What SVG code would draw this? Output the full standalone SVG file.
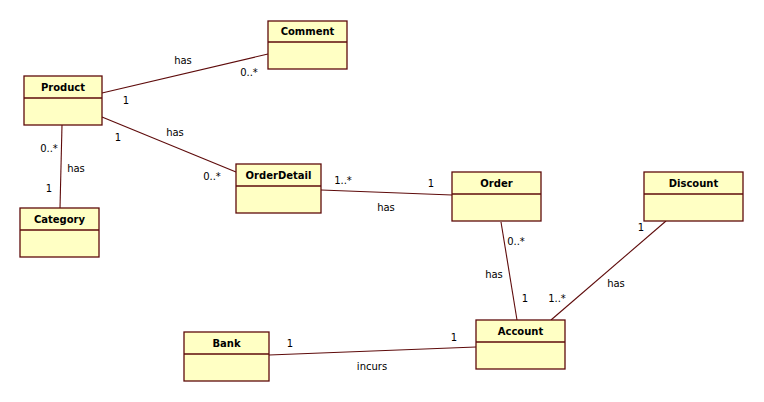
<svg xmlns="http://www.w3.org/2000/svg" width="764" height="402" viewBox="0 0 764 402">
<style>
.box{fill:#FFFFC4;stroke:#5E0B0B;stroke-width:1.3}
.div{stroke:#5E0B0B;stroke-width:1.3}
.t{font-family:"DejaVu Sans",Verdana,sans-serif;font-size:10px;font-weight:bold;fill:#000;text-anchor:middle}
.l{font-family:"DejaVu Sans",Verdana,sans-serif;font-size:10px;fill:#000;text-anchor:middle}
.c{stroke:#5E0B0B;stroke-width:1.1;fill:none}
</style>
<rect width="764" height="402" fill="#fff"/>
<g id="connectors">
<line class="c" x1="102" y1="93" x2="268" y2="54"/>
<line class="c" x1="102" y1="117" x2="236" y2="172"/>
<line class="c" x1="62" y1="125" x2="60" y2="208"/>
<line class="c" x1="321" y1="190" x2="452" y2="195"/>
<line class="c" x1="501" y1="222" x2="517" y2="320"/>
<line class="c" x1="666" y1="221" x2="551" y2="320"/>
<line class="c" x1="269" y1="355" x2="476" y2="347"/>
</g>
<g id="labels">
<text class="l" x="183" y="64">has</text>
<text class="l" x="249" y="76">0..*</text>
<text class="l" x="126" y="104">1</text>
<text class="l" x="175" y="136">has</text>
<text class="l" x="118" y="141">1</text>
<text class="l" x="212" y="180">0..*</text>
<text class="l" x="49" y="152">0..*</text>
<text class="l" x="76" y="172">has</text>
<text class="l" x="49" y="192">1</text>
<text class="l" x="343" y="184">1..*</text>
<text class="l" x="386" y="211">has</text>
<text class="l" x="431" y="187">1</text>
<text class="l" x="516" y="245">0..*</text>
<text class="l" x="494" y="278">has</text>
<text class="l" x="525" y="302">1</text>
<text class="l" x="557" y="302">1..*</text>
<text class="l" x="641" y="231">1</text>
<text class="l" x="616" y="287">has</text>
<text class="l" x="454" y="341">1</text>
<text class="l" x="290" y="347">1</text>
<text class="l" x="372" y="370">incurs</text>
</g>
<g id="Comment">
<rect class="box" x="268" y="21" width="79" height="48"/>
<line class="div" x1="268" y1="42" x2="347" y2="42"/>
<text class="t" x="307.5" y="35">Comment</text>
</g>
<g id="Product">
<rect class="box" x="24" y="76" width="78" height="49"/>
<line class="div" x1="24" y1="98" x2="102" y2="98"/>
<text class="t" x="63" y="91">Product</text>
</g>
<g id="Category">
<rect class="box" x="20" y="208" width="79" height="49"/>
<line class="div" x1="20" y1="230" x2="99" y2="230"/>
<text class="t" x="59.5" y="223">Category</text>
</g>
<g id="OrderDetail">
<rect class="box" x="236" y="164" width="85" height="49"/>
<line class="div" x1="236" y1="186" x2="321" y2="186"/>
<text class="t" x="278.5" y="179">OrderDetail</text>
</g>
<g id="Order">
<rect class="box" x="452" y="172" width="89" height="49"/>
<line class="div" x1="452" y1="194" x2="541" y2="194"/>
<text class="t" x="496.5" y="187">Order</text>
</g>
<g id="Discount">
<rect class="box" x="644" y="172" width="99" height="49"/>
<line class="div" x1="644" y1="194" x2="743" y2="194"/>
<text class="t" x="693.5" y="187">Discount</text>
</g>
<g id="Account">
<rect class="box" x="476" y="320" width="89" height="49"/>
<line class="div" x1="476" y1="342" x2="565" y2="342"/>
<text class="t" x="520.5" y="335">Account</text>
</g>
<g id="Bank">
<rect class="box" x="184" y="332" width="85" height="49"/>
<line class="div" x1="184" y1="354" x2="269" y2="354"/>
<text class="t" x="226.5" y="347">Bank</text>
</g>
</svg>
